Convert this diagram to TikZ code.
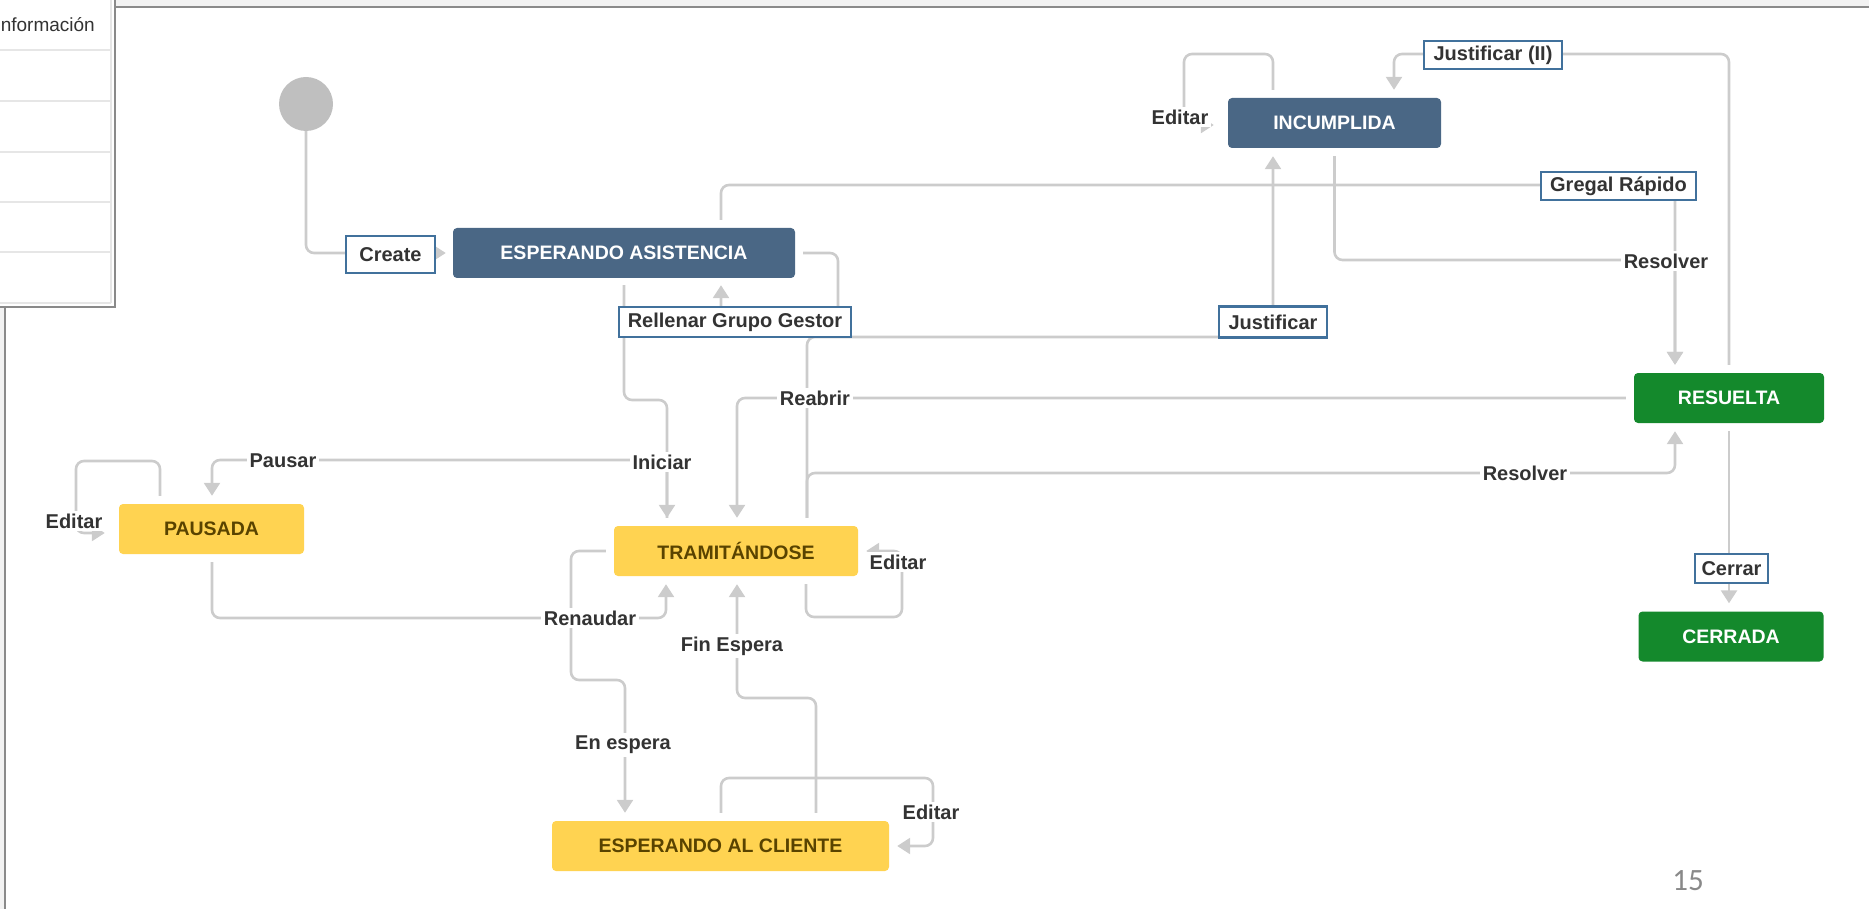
\documentclass[tikz,border=0pt]{standalone}
\usepackage{fontspec}
\setmainfont{Liberation Sans}
\newfontfamily\pgnumfont{Carlito}
\usetikzlibrary{arrows.meta,calc}
\definecolor{jblue}{HTML}{4A6785}
\definecolor{jgreen}{HTML}{14892C}
\definecolor{jyellow}{HTML}{FFD351}
\definecolor{jytext}{HTML}{594300}
\definecolor{conncol}{HTML}{CCCCCC}
\definecolor{lblcol}{HTML}{333333}
\definecolor{boxcol}{HTML}{41719C}
\definecolor{framecol}{HTML}{8A8A8A}
\definecolor{stripcol}{HTML}{F2F2F2}
\definecolor{rowcol}{HTML}{E6E6E6}
\definecolor{initcol}{HTML}{BFBFBF}
\definecolor{pgcol}{HTML}{898989}
\begin{document}
\begin{tikzpicture}[x=1pt,y=-1pt,
  state/.style={rectangle, rounded corners=4pt, inner sep=0pt, minimum height=50pt,
    font=\fontsize{19.5}{23}\selectfont\bfseries},
  bluestate/.style={state, fill=jblue, text=white},
  greenstate/.style={state, fill=jgreen, text=white},
  yellowstate/.style={state, fill=jyellow, text=jytext},
  conn/.style={draw=conncol, line width=2.6pt, rounded corners=8pt, -{Triangle[width=16pt,length=13pt]}},
  lbl/.style={fill=white, text=lblcol, font=\fontsize{20}{24}\selectfont\bfseries, inner xsep=3pt, inner ysep=3pt},
  boxlbl/.style={lbl, draw=boxcol, line width=2.2pt, inner sep=0pt},
]
\useasboundingbox (0,0) rectangle (1869,909);
% frame
\fill[stripcol] (115,0) rectangle (1869,6);
\draw[framecol, line width=2pt] (115,7) -- (1869,7);
\fill[stripcol] (0,307) rectangle (4,909);
\draw[framecol, line width=2pt] (5,307) -- (5,909);
% side panel
\fill[white] (0,0) rectangle (115,307);
\foreach \yy in {50,101,152,202,252,303} \draw[rowcol, line width=1.5pt] (0,\yy) -- (111,\yy);
\draw[rowcol, line width=1.5pt] (111,0) -- (111,303);
\draw[framecol, line width=2.5pt] (115,0) -- (115,307) -- (0,307);
\node[anchor=east, inner sep=0pt, text=lblcol, font=\fontsize{19}{22}\selectfont] (info) at (95,25) {nformación};

% states
\node[circle, fill=initcol, minimum size=54pt, inner sep=0pt] (init) at (306,104) {};
\node[bluestate, minimum width=342pt] (esp) at (624,253) {ESPERANDO ASISTENCIA};
\node[bluestate, minimum width=213pt] (inc) at (1334.5,123) {INCUMPLIDA};
\node[greenstate, minimum width=190pt] (res) at (1729,398) {RESUELTA};
\node[greenstate, minimum width=185pt] (cer) at (1731,636.5) {CERRADA};
\node[yellowstate, minimum width=185pt] (pau) at (211.5,529) {PAUSADA};
\node[yellowstate, minimum width=244pt] (tra) at (736,551) {TRAMITÁNDOSE};
\node[yellowstate, minimum width=337pt] (eac) at (720.5,846) {ESPERANDO AL CLIENTE};

% connectors
\draw[conn] (init.south) |- ($(esp.west)+(-7,0)$);
\draw[conn] ($(esp.south)+(0,7)$) |- (667,400) -- ($(tra.north)+(-69,-8)$);
\draw[conn] ($(tra.north)+(-69,-8)$) -- (667,460) -| ($(pau.north)+(0.5,-8)$);
\draw[conn] ($(pau.north)+(-51.5,-8)$) |- (76,461) |- ($(pau.west)+(-14,4)$);
\draw[conn] ($(inc.north)+(-61.5,-8)$) |- (1184,54) |- ($(inc.west)+(-14,2)$);
\draw[conn] ($(res.north)+(0,-8)$) |- (1394,54) -- ($(inc.north)+(59.5,-8)$);
\draw[conn] ($(esp.north)+(97,-8)$) |- (1675,185) -- ($(res.north)+(-54,-8)$);
\draw[conn] ($(inc.south)+(0,8)$) |- (1675,260) -- ($(res.north)+(-54,-8)$);
\draw[conn] ($(tra.north)+(71,-8)$) |- (1273,337) -- ($(inc.south)+(-61.5,8)$);
\draw[conn] ($(esp.east)+(8,0)$) -| (838,322) -| ($(esp.south)+(97,7)$);
\draw[conn] ($(res.west)+(-8,0)$) -| ($(tra.north)+(1,-8)$);
\draw[conn] ($(tra.north)+(71,-8)$) |- (1675,473) -- ($(res.south)+(-54,8)$);
\draw[conn] ($(res.south)+(0,8)$) -- ($(res.south |- cer.north)+(0,-8)$);
\draw[conn] ($(pau.south)+(0.5,8)$) |- (666,618) -- ($(tra.south)+(-70,8)$);
\draw[conn] ($(tra.west)+(-8,0)$) -| (571,680) -| ($(eac.north)+(-95.5,-8)$);
\draw[conn] ($(eac.north)+(95.5,-8)$) |- (737,698) -- ($(tra.south)+(1,8)$);
\draw[conn] ($(tra.south)+(70,8)$) |- (902,617) |- ($(tra.east)+(8,0)$);
\draw[conn] ($(eac.north)+(0.5,-8)$) |- (933,778) |- ($(eac.east)+(8,0)$);

% plain labels
\node[lbl] (lIniciar) at (662,462) {Iniciar};
\node[lbl] (lPausar) at (283,461) {Pausar};
\node[lbl] (lEdPau) at (74,521) {Editar};
\node[lbl] (lEdInc) at (1180,117) {Editar};
\node[lbl] (lEdTra) at (898,562) {Editar};
\node[lbl] (lEdEac) at (931,812) {Editar};
\node[lbl] (lResInc) at (1666,261) {Resolver};
\node[lbl] (lResTra) at (1525,473) {Resolver};
\node[lbl] (lReabrir) at (815,398) {Reabrir};
\node[lbl] (lRenaudar) at (590,618) {Renaudar};
\node[lbl] (lEnEspera) at (623,745) {En espera};
\node[lbl] (lFinEspera) at (732,646) {Fin Espera};

% boxed labels
\node[boxlbl, minimum width=89pt, minimum height=37pt] (lCreate) at (390.5,254.5) {Create};
\node[boxlbl, minimum width=232pt, minimum height=30pt] (lRellenar) at (735,322) {Rellenar Grupo Gestor};
\node[boxlbl, minimum width=108pt, minimum height=31pt] (lJust) at (1273,322) {Justificar};
\node[boxlbl, minimum width=155pt, minimum height=28pt] (lGregal) at (1618.5,186) {Gregal Rápido};
\node[boxlbl, minimum width=138pt, minimum height=28pt] (lJust2) at (1493,55) {Justificar (II)};
\node[boxlbl, minimum width=73pt, minimum height=29pt] (lCerrar) at (1731.5,568.5) {Cerrar};

% page number
\node[text=pgcol, font=\pgnumfont\fontsize{31}{36}\selectfont, inner sep=0pt] (pg) at (1688,881) {15};
\end{tikzpicture}
\end{document}
